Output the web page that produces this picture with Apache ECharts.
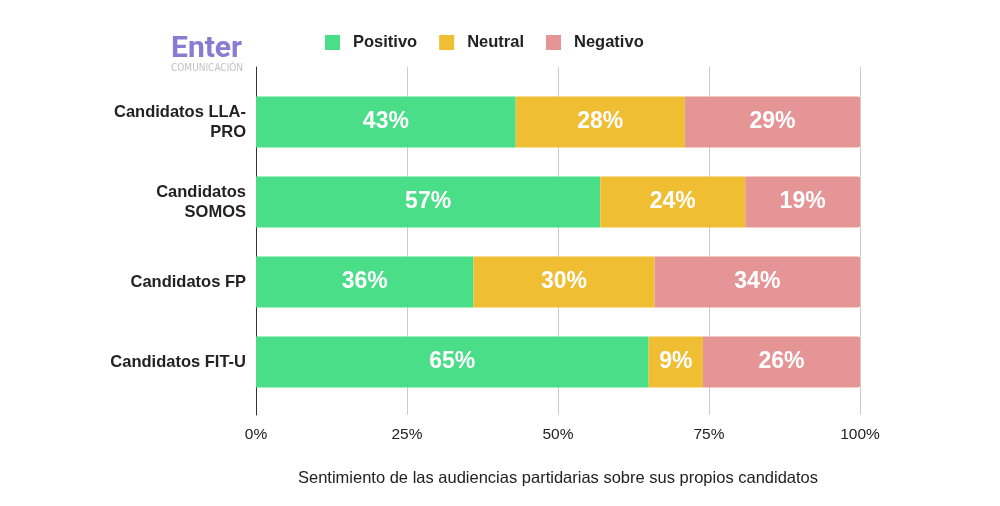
<!DOCTYPE html>
<html><head><meta charset="utf-8">
<script src="https://cdn.jsdelivr.net/npm/echarts@6/dist/echarts.min.js"></script>
<style>html,body{margin:0;padding:0;background:#fff}#c{width:1000px;height:506px}</style>
</head><body><div id="c"></div>
<script>
const categories = ['Candidatos LLA-\nPRO', 'Candidatos\nSOMOS', 'Candidatos FP', 'Candidatos FIT-U'];
const positivo = [43, 57, 36, 65];
const neutral = [28, 24, 30, 9];
const negativo = [29, 19, 34, 26];
const xTicks = [0, 25, 50, 75, 100];
const axisTitle = 'Sentimiento de las audiencias partidarias sobre sus propios candidatos';

const chart = echarts.init(document.getElementById('c'));
const font = '"Liberation Sans", Arial, sans-serif';
const lbl = {show: true, position: 'inside', color: '#fff', fontSize: 23, fontWeight: 'bold', fontFamily: font, formatter: p => p.value + '%'};
chart.setOption({
  animation: false,
  legend: {
    top: 29, left: 320, itemWidth: 15, itemHeight: 15, itemGap: 22,
    icon: 'rect',
    textStyle: {fontSize: 16.5, fontWeight: 'bold', color: '#222', fontFamily: font, padding: [0, 0, 0, 8]},
    data: ['Positivo', 'Neutral', 'Negativo']
  },
  graphic: [
    {type: 'text', left: 171, top: 34, style: {text: 'Enter', font: 'bold 30px Roboto, sans-serif', fill: '#8a7bd2'}},
    {type: 'text', left: 171, top: 63, style: {text: 'COMUNICACIÓN', font: '10px "DejaVu Sans Condensed", sans-serif', fill: '#c0c0c8'}}
  ],
  grid: [
    {left: 256, right: 140, top: 82, height: 320},
    {left: 256, right: 140, top: 67, height: 348}
  ],
  xAxis: [
    {gridIndex: 0, type: 'value', min: 0, max: 100, interval: 25, show: false},
    {gridIndex: 1, type: 'value', min: 0, max: 100, interval: 25,
      axisLine: {show: false}, axisTick: {show: false},
      splitLine: {show: true, lineStyle: {color: '#cccccc', width: 1}},
      axisLabel: {margin: 12, fontSize: 15.5, color: '#222', fontFamily: font,
        formatter: v => xTicks.includes(v) ? v + '%' : ''},
      name: axisTitle, nameLocation: 'middle', nameGap: 55,
      nameTextStyle: {fontSize: 16.5, color: '#222', fontFamily: font}}
  ],
  yAxis: [
    {gridIndex: 0, type: 'category', inverse: true, data: categories,
      axisLine: {show: false}, axisTick: {show: false},
      axisLabel: {margin: 10, fontSize: 16.5, fontWeight: 'bold', color: '#222', fontFamily: font, lineHeight: 20, align: 'right'}},
    {gridIndex: 1, type: 'value', min: 0, max: 1, show: true,
      axisLine: {show: true, lineStyle: {color: '#333', width: 1}},
      axisTick: {show: false}, axisLabel: {show: false}, splitLine: {show: false}}
  ],
  series: [
    {name: 'Positivo', type: 'bar', stack: 's', data: positivo, barWidth: 51, label: lbl,
      itemStyle: {color: '#4ade88'}},
    {name: 'Neutral', type: 'bar', stack: 's', data: neutral, barWidth: 51, label: lbl,
      itemStyle: {color: '#f0be33'}},
    {name: 'Negativo', type: 'bar', stack: 's', data: negativo, barWidth: 51, label: lbl,
      itemStyle: {color: '#e69596', borderRadius: [0, 2, 2, 0]}}
  ]
});
</script></body></html>
